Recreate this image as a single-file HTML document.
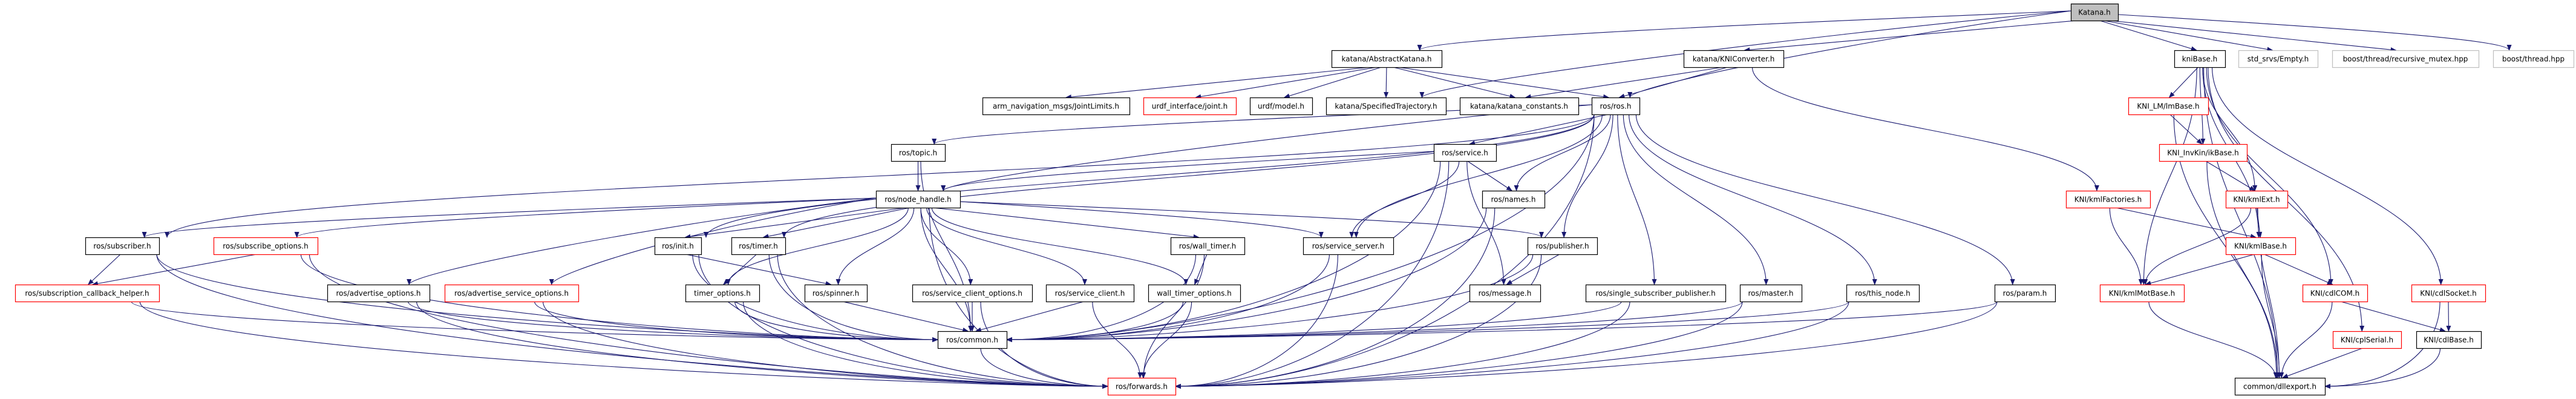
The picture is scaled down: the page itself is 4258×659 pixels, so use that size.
<!DOCTYPE html>
<html><head><meta charset="utf-8">
<style>
html,body{margin:0;padding:0;background:#fff;}
svg{display:block;}
text{font-family:"DejaVu Sans","Liberation Sans",sans-serif;font-size:12px;fill:#000;}
</style></head>
<body>
<svg id="g" width="4258" height="659" viewBox="0 0 4258 659" xmlns="http://www.w3.org/2000/svg">
<defs>
<marker id="a" markerWidth="10" markerHeight="8" refX="9" refY="4" orient="auto" markerUnits="userSpaceOnUse">
<path d="M0,0 L10,4 L0,8 z" fill="#191970"/>
</marker>
</defs>
<rect width="4258" height="659" fill="#fff"/>
<g id="edges" fill="none" stroke="#191970" stroke-width="1.1"></g>
<g id="nodes"></g>
</svg>
<script>
var R=[6,83,161,238,315,392,470,547,624];
var N={
Katana:["Katana.h",3423,3501,0,"k"],
AK:["katana/AbstractKatana.h",2201,2383,1],
KC:["katana/KNIConverter.h",2783,2948,1],
kni:["kniBase.h",3594,3678,1],
Empty:["std_srvs/Empty.h",3700,3831,1,"g"],
rmx:["boost/thread/recursive_mutex.hpp",3855,4097,1,"g"],
bth:["boost/thread.hpp",4121,4254,1,"g"],
JL:["arm_navigation_msgs/JointLimits.h",1624,1867,2],
uj:["urdf_interface/joint.h",1890,2043,2,"r"],
um:["urdf/model.h",2066,2169,2],
ST:["katana/SpecifiedTrajectory.h",2192,2390,2],
kcon:["katana/katana_constants.h",2413,2609,2],
ros:["ros/ros.h",2631,2710,2],
lm:["KNI_LM/lmBase.h",3518,3650,2,"r"],
topic:["ros/topic.h",1473,1562,3],
service:["ros/service.h",2370,2473,3],
ik:["KNI_InvKin/ikBase.h",3569,3714,3,"r"],
nh:["ros/node_handle.h",1448,1587,4],
names:["ros/names.h",2450,2553,4],
kf:["KNI/kmlFactories.h",3415,3554,4,"r"],
ke:["KNI/kmlExt.h",3679,3781,4,"r"],
sub:["ros/subscriber.h",141,263,5],
so:["ros/subscribe_options.h",353,525,5,"r"],
init:["ros/init.h",1082,1159,5],
timer:["ros/timer.h",1209,1298,5],
wt:["ros/wall_timer.h",1935,2057,5],
ss:["ros/service_server.h",2154,2303,5],
pub:["ros/publisher.h",2525,2640,5],
kb:["KNI/kmlBase.h",3679,3794,5,"r"],
sch:["ros/subscription_callback_helper.h",25,263,6,"r"],
ao:["ros/advertise_options.h",541,710,6],
aso:["ros/advertise_service_options.h",735,956,6,"r"],
to:["timer_options.h",1133,1255,6],
spin:["ros/spinner.h",1330,1433,6],
sco:["ros/service_client_options.h",1508,1706,6],
sc:["ros/service_client.h",1729,1874,6],
wto:["wall_timer_options.h",1898,2050,6],
msg:["ros/message.h",2429,2546,6],
ssp:["ros/single_subscriber_publisher.h",2621,2852,6],
master:["ros/master.h",2876,2978,6],
tn:["ros/this_node.h",3052,3172,6],
param:["ros/param.h",3297,3397,6],
kmb:["KNI/kmlMotBase.h",3471,3610,6,"r"],
com:["KNI/cdlCOM.h",3806,3913,6,"r"],
sock:["KNI/cdlSocket.h",3986,4108,6,"r"],
common:["ros/common.h",1550,1664,7],
cps:["KNI/cplSerial.h",3856,3969,7,"r"],
cdlb:["KNI/cdlBase.h",3994,4101,7],
fw:["ros/forwards.h",1831,1943,8,"r"],
dll:["common/dllexport.h",3694,3843,8]
};
var E={
Katana:["AK","KC","ros","kni","Empty","rmx","bth","ST"],
AK:["JL","uj","um","ST","kcon","ros"],
KC:["kcon","ros","kf"],
ros:["topic","nh","sub","init","common","service","ss","names","pub","ssp","master","tn","param","timer","fw"],
topic:["nh","common"],
service:["nh","names","msg","common","fw","ss"],
nh:["sub","so","init","timer","ao","aso","to","spin","common","sco","sc","wto","wt","ss","pub","fw"],
sub:["sch","common","fw"],
so:["sch","common","fw"],
init:["spin","common","fw"],
timer:["to","common","fw"],
sch:["common","fw"],ao:["common","fw"],aso:["common","fw"],to:["common","fw"],
spin:["common"],sco:["common","fw"],sc:["common","fw"],
wt:["wto","common","fw"],wto:["common","fw"],common:["fw"],
ss:["common","fw"],names:["common","fw"],pub:["msg","common","fw"],
ssp:["common","fw"],master:["common","fw"],tn:["common","fw"],param:["common","fw"],
kni:["lm","ik","ke","kb","kmb","com","cps","sock","dll"],
lm:["ik","dll"],ik:["ke","dll"],kf:["kb","kmb"],ke:["kb","kmb","dll"],
kb:["kmb","com","dll"],kmb:["dll"],com:["cdlb","dll"],sock:["cdlb","dll"],cps:["dll"],cdlb:["dll"]
};
var ns="http://www.w3.org/2000/svg";
var eg=document.getElementById("edges"),ng=document.getElementById("nodes");
var H=28;
function box(k){var n=N[k];return{x1:n[1],x2:n[2],y1:R[n[3]],y2:R[n[3]]+H,cx:(n[1]+n[2])/2};}
for(var s in E){E[s].forEach(function(t){
 var a=box(s),b=box(t),sx,sy,tx,ty,d;
 var dx=b.cx-a.cx;
 var rows=N[t][3]-N[s][3];
 sx=a.cx+Math.max(-(a.x2-a.x1)/2+4,Math.min((a.x2-a.x1)/2-4,dx*0.05));
 sy=a.y2;
 if(b.y1<=a.y1){
   if(dx>0){sx=a.x2;tx=b.x1;}else{sx=a.x1;tx=b.x2;}
   sy=a.y1+H/2;ty=b.y1+H/2;
   d="M"+sx+","+sy+" C"+(sx+tx)/2+","+sy+" "+(sx+tx)/2+","+ty+" "+tx+","+ty;
 } else if(Math.abs(dx)>600 && rows<=2 && !(t=="common"||t=="fw"||t=="dll")){
   sx=dx>0?a.x2:a.x1; sy=a.y1+H/2+(dx>0?4:-2);
   tx=b.cx+(dx>0?-b.x2+b.x1:b.x2-b.x1)*0.3; ty=b.y1;
   d="M"+sx+","+sy+" C"+(sx+dx*0.4)+","+(sy+(ty-sy)*0.3)+" "+tx+","+(ty-20)+" "+tx+","+ty;
 } else if((t=="common"||t=="fw"||t=="dll")&&Math.abs(dx)>260){
   tx=dx>0?b.x1:b.x2;ty=b.y1+H/2;
   d="M"+sx+","+sy+" C"+sx+","+(sy+(ty-sy)*0.6)+" "+(tx-(dx>0?1:-1)*Math.min(300,Math.abs(dx)*0.4))+","+ty+" "+tx+","+ty;
 } else {
   tx=b.cx-dx*0.03;ty=b.y1;
   if(b.y1-a.y2>60){
     var k=(ty-sy)*0.45;
     d="M"+sx+","+sy+" C"+sx+","+(sy+k)+" "+tx+","+(ty-k)+" "+tx+","+ty;
   } else d="M"+sx+","+sy+" L"+tx+","+ty;
 }
 var p=document.createElementNS(ns,"path");p.setAttribute("d",d);p.setAttribute("marker-end","url(#a)");eg.appendChild(p);
});}
for(var k in N){var n=N[k],b=box(k);
 var r=document.createElementNS(ns,"rect");
 r.setAttribute("x",b.x1+0.5);r.setAttribute("y",b.y1+0.5);r.setAttribute("width",b.x2-b.x1);r.setAttribute("height",H);
 r.setAttribute("fill",n[4]=="k"?"#bfbfbf":"#fff");
 r.setAttribute("stroke",n[4]=="r"?"#ff0000":(n[4]=="g"?"#bfbfbf":"#000"));
 r.setAttribute("stroke-width","1.2");ng.appendChild(r);
 var t=document.createElementNS(ns,"text");t.setAttribute("x",b.cx);t.setAttribute("y",b.y1+18.5);
 t.setAttribute("text-anchor","middle");t.textContent=n[0];ng.appendChild(t);
}
</script>
</body></html>
